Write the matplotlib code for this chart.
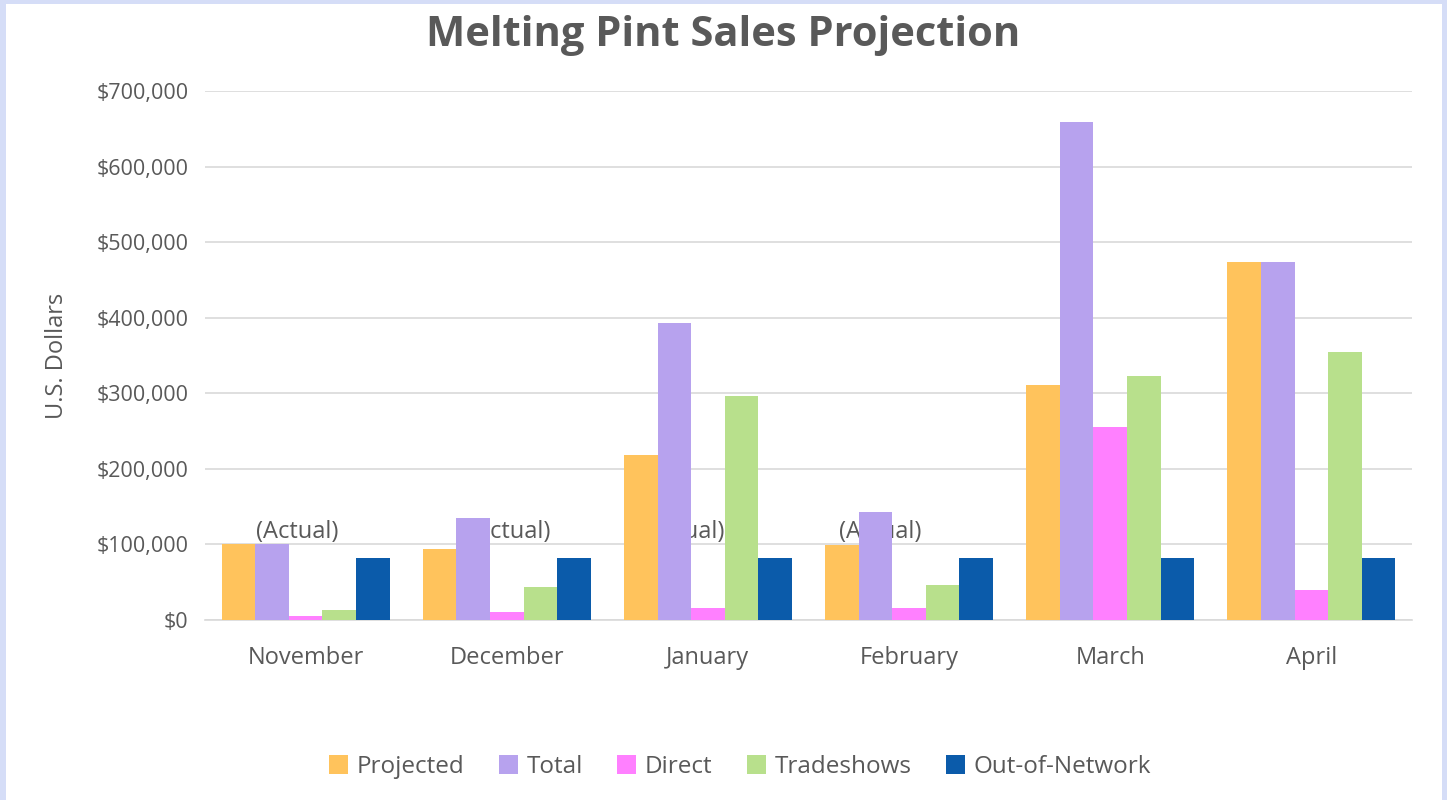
import matplotlib.pyplot as plt
import matplotlib.patches as mpatches
import numpy as np
from matplotlib.ticker import FuncFormatter

# Данные графика
months = ['November', 'December', 'January', 'February', 'March', 'April']
projected = [100000, 94000, 218000, 99000, 311000, 474000]
total = [100000, 135000, 393000, 143000, 659000, 474000]
direct = [5000, 10000, 16000, 16000, 255000, 40000]
tradeshows = [13000, 44000, 296000, 46000, 323000, 355000]
out_of_network = [82000, 82000, 82000, 82000, 82000, 82000]
series_names = ['Projected', 'Total', 'Direct', 'Tradeshows', 'Out-of-Network']
actual_label = '(Actual)'
actual_months = ['November', 'December', 'January', 'February']

colors = ['#FFC35C', '#B7A2EE', '#FF80FF', '#B8E08C', '#0B5BAA']
text_gray = '#595959'

plt.rcParams['font.family'] = ['Open Sans', 'DejaVu Sans']

fig = plt.figure(figsize=(14.47, 8), dpi=100)
fig.patch.set_facecolor('#D5DDF7')
# белая подложка внутри голубой рамки
fig.patches.append(mpatches.Rectangle((6 / 1447, 0), 1 - 11 / 1447, 1 - 4 / 800,
                                      transform=fig.transFigure, facecolor='white',
                                      edgecolor='none', zorder=-10))

ax = fig.add_axes([205 / 1447, 180 / 800, 1207 / 1447, 529 / 800])
ax.set_facecolor('white')

x = np.arange(len(months))
width = 0.167
all_series = [projected, total, direct, tradeshows, out_of_network]
for i, (vals, name) in enumerate(zip(all_series, series_names)):
    ax.bar(x + (i - 2) * width, vals, width, color=colors[i], label=name, zorder=3)

# подписи "(Actual)" - лежат под столбцами
actual_x = [-0.042, 1.012, 1.878, 2.858]
for m, xp in zip(actual_months, actual_x):
    ax.text(xp, 117000, actual_label, ha='center', va='center', fontsize=17,
            color=text_gray, zorder=2)

ax.set_xlim(-0.5, len(months) - 0.5)
ax.set_ylim(0, 700000)
ax.set_yticks(np.arange(0, 700001, 100000))
ax.yaxis.set_major_formatter(FuncFormatter(lambda v, p: f'${v:,.0f}'))
ax.set_xticks(x)
ax.set_xticklabels(months)
ax.tick_params(axis='both', length=0, labelcolor=text_gray)
ax.tick_params(axis='x', pad=19, labelsize=17)
ax.tick_params(axis='y', pad=12, labelsize=15.5)
ax.grid(axis='y', color='#D9D9D9', linewidth=1.2, zorder=0)
ax.set_axisbelow(True)
for s in ['top', 'right', 'left']:
    ax.spines[s].set_visible(False)
ax.spines['bottom'].set_color('#D9D9D9')
ax.spines['bottom'].set_linewidth(1.2)

ax.set_ylabel('U.S. Dollars', fontsize=17, color=text_gray)
ax.yaxis.set_label_coords((69 - 205) / 1207, 0.5)

fig.text(0.5, 1 - 35 / 800, 'Melting Pint Sales Projection', ha='center', va='center',
         fontsize=30, fontweight='bold', color=text_gray)

fig.legend(loc='center', bbox_to_anchor=(740 / 1447, 1 - 767 / 800),
           ncol=5, frameon=False, fontsize=17.5, handlelength=0.8, handleheight=0.8,
           handletextpad=0.35, columnspacing=1.4, labelcolor=text_gray)

plt.savefig('out.png', dpi=100, facecolor=fig.get_facecolor())
